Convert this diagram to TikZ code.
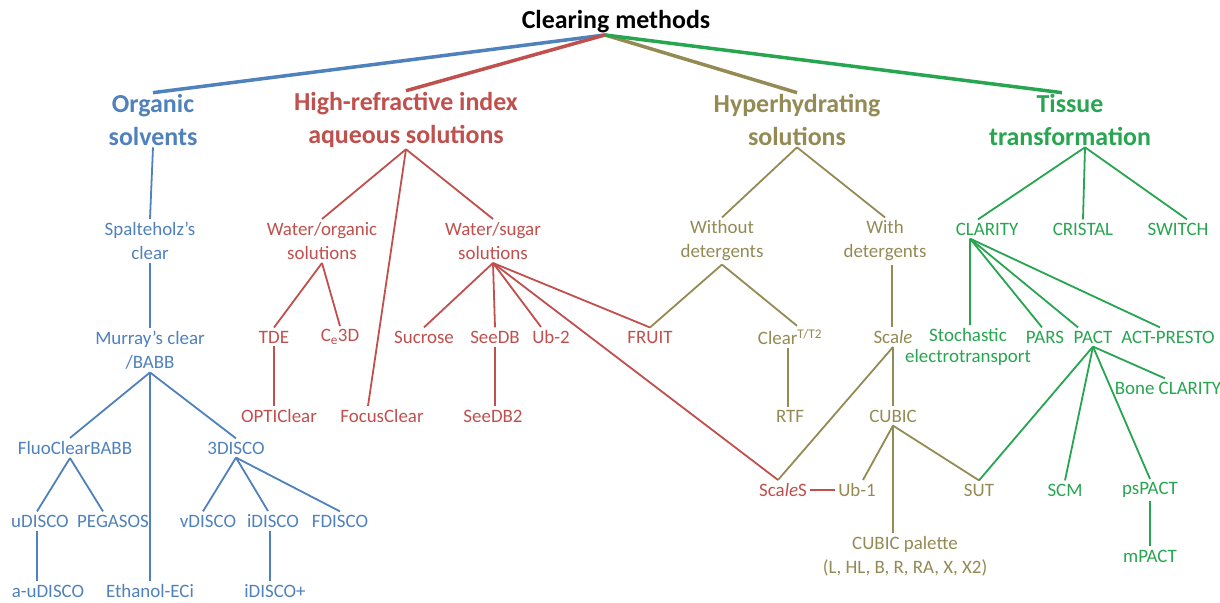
\documentclass[tikz,border=0pt]{standalone}
\usepackage{fontspec}
\setmainfont{Carlito}
\definecolor{solv}{RGB}{79,129,189}
\definecolor{hri}{RGB}{192,80,77}
\definecolor{hyp}{RGB}{148,138,84}
\definecolor{tis}{RGB}{40,165,80}
\tikzset{
  lbl/.style={font=\fontsize{19}{24}\selectfont, align=center, inner sep=2.5bp},
  head/.style={font=\bfseries\fontsize{26}{33}\selectfont, align=center, inner sep=1.5bp},
  br/.style={line width=1.8bp},
  top/.style={line width=3.5bp}
}
\begin{document}
\begin{tikzpicture}[x=1bp,y=-1bp]
  \path[use as bounding box, fill=white] (0,0) rectangle (1220,603);
  \node[head,text=black] (title) at (616,22) {Clearing methods};
  \node[head,text=solv] (org) at (153,120) {Organic\\solvents};
  \node[head,text=hri] (hri) at (406,120) {High-refractive index\\aqueous solutions};
  \node[head,text=hyp] (hyp) at (797,120) {Hyperhydrating\\solutions};
  \node[head,text=tis] (tis) at (1070,120) {Tissue\\transformation};
  \draw[top,solv] ([xshift=-11bp]title.south) -- (org.north);
  \draw[top,hri] ([xshift=-11bp]title.south) -- (hri.north);
  \draw[top,hyp] ([xshift=-11bp]title.south) -- (hyp.north);
  \draw[top,tis] ([xshift=-11bp]title.south) -- ([xshift=-8bp]tis.north);

  \begin{scope}[every node/.style={lbl,text=solv}, every path/.style={br,solv}]
    \node (spal) at (150,241) {Spalteholz’s\\clear};
    \node (murray) at (150,350) {Murray’s clear\\/BABB};
    \node (fluo) at (75,448) {FluoClearBABB};
    \node (tdisco) at (236,448) {3DISCO};
    \node (udisco) at (40,521) {uDISCO};
    \node (pegasos) at (113,521) {PEGASOS};
    \node (vdisco) at (208,521) {vDISCO};
    \node (idisco) at (273,521) {iDISCO};
    \node (fdisco) at (340,521) {FDISCO};
    \node (audisco) at (48,591) {a-uDISCO};
    \node (ethanol) at (150,591) {Ethanol-ECi};
    \node (idiscop) at (275,591) {iDISCO+};
    \draw (org.south) -- (spal.north);
    \draw (spal.south) -- (murray.north);
    \draw (murray.south) -- ([xshift=-5bp]fluo.north);
    \draw (murray.south) -- (ethanol.north);
    \draw (murray.south) -- (tdisco.north);
    \draw ([xshift=-5bp]fluo.south) -- ([xshift=-3bp]udisco.north);
    \draw ([xshift=-5bp]fluo.south) -- ([xshift=-10bp]pegasos.north);
    \draw ([xshift=-3bp]udisco.south) -- ([xshift=-3bp]udisco.south |- audisco.north);
    \draw (tdisco.south) -- ([xshift=-5bp]vdisco.north);
    \draw (tdisco.south) -- ([xshift=-5bp]idisco.north);
    \draw (tdisco.south) -- (fdisco.north);
    \draw ([xshift=-3bp]idisco.south) -- ([xshift=-3bp]idisco.south |- idiscop.north);
  \end{scope}

  \begin{scope}[every node/.style={lbl,text=hri}, every path/.style={br,hri}]
    \node (wo) at (322,241) {Water/organic\\solutions};
    \node (tde) at (274,337) {TDE};
    \node (ce3d) at (340,337) {C\textsubscript{e}3D};
    \node (optic) at (279,416) {OPTIClear};
    \node (focus) at (382,416) {FocusClear};
    \node (ws) at (493,241) {Water/sugar\\solutions};
    \node (sucrose) at (424,337) {Sucrose};
    \node (seedb) at (495,337) {SeeDB};
    \node (ub2) at (551,337) {Ub-2};
    \node (fruit) at (650,337) {FRUIT};
    \node (seedb2) at (493,416) {SeeDB2};
    \node (scales) at (783,490) {Sca\textit{le}S};
    \draw (hri.south) -- (wo.north);
    \draw (hri.south) -- ([xshift=-14bp]focus.north);
    \draw (hri.south) -- (ws.north);
    \draw (wo.south) -- (tde.north);
    \draw (wo.south) -- (ce3d.north);
    \draw (tde.south) -- (tde.south |- optic.north);
    \draw (ws.south) -- (sucrose.north);
    \draw (ws.south) -- (seedb.north);
    \draw (ws.south) -- ([xshift=-10bp]ub2.north);
    \draw (ws.south) -- (fruit.north);
    \draw (ws.south) -- ([xshift=-5bp]scales.north);
    \draw (seedb.south) -- (seedb.south |- seedb2.north);
  \end{scope}

  \begin{scope}[every node/.style={lbl,text=hyp}, every path/.style={br,hyp}]
    \node (wod) at (722,241) {Without\\detergents};
    \node (wd) at (885,241) {With\\detergents};
    \node (clear) at (790,337) {Clear\textsuperscript{T/T2}};
    \node (rtf) at (790,416) {RTF};
    \node (scale) at (893,337) {Sca\textit{le}};
    \node (cubic) at (893,416) {CUBIC};
    \node (ub1) at (857,490) {Ub-1};
    \node (sut) at (979,490) {SUT};
    \node (palette) at (905,556) {CUBIC palette\\(L, HL, B, R, RA, X, X2)};
    \draw (hyp.south) -- (wod.north);
    \draw (hyp.south) -- (wd.north);
    \draw (wod.south) -- (fruit.north);
    \draw (wod.south) -- ([xshift=7bp]clear.north);
    \draw ([xshift=-2bp]clear.south) -- ([xshift=-2bp]clear.south |- rtf.north);
    \draw ([xshift=7bp]wd.south) -- ([xshift=7bp]wd.south |- scale.north);
    \draw (scale.south) -- ([xshift=-5bp]scales.north);
    \draw (scale.south) -- (cubic.north);
    \draw (cubic.south) -- ([xshift=6bp]ub1.north);
    \draw (cubic.south) -- (cubic.south |- palette.north);
    \draw (cubic.south) -- (sut.north);
  \end{scope}
  \draw[br,hri] (scales.east) -- (ub1.west);

  \begin{scope}[every node/.style={lbl,text=tis}, every path/.style={br,tis}]
    \node (clarity) at (987,229) {CLARITY};
    \node (cristal) at (1083,229) {CRISTAL};
    \node (switch) at (1178,229) {SWITCH};
    \node[font=\fontsize{19}{21}\selectfont] (stoch) at (968,347) {Stochastic\\electrotransport};
    \node (pars) at (1045,337) {PARS};
    \node (pact) at (1093,337) {PACT};
    \node (actp) at (1168,337) {ACT-PRESTO};
    \node (bone) at (1168,388) {Bone CLARITY};
    \node (scm) at (1065,490) {SCM};
    \node (pspact) at (1150,490) {psPACT};
    \node (mpact) at (1150,556) {mPACT};
    \draw ([xshift=15bp]tis.south) -- ([xshift=-9bp]clarity.north);
    \draw ([xshift=15bp]tis.south) -- (cristal.north);
    \draw ([xshift=15bp]tis.south) -- ([xshift=9bp]switch.north);
    \draw ([xshift=-17bp]clarity.south) -- ([xshift=2bp]stoch.north);
    \draw ([xshift=-17bp]clarity.south) -- ([xshift=-3bp]pars.north);
    \draw ([xshift=-17bp]clarity.south) -- ([xshift=-15bp]pact.north);
    \draw ([xshift=-17bp]clarity.south) -- ([xshift=-8bp]actp.north);
    \draw (pact.south) -- (sut.north);
    \draw (pact.south) -- (scm.north);
    \draw (pact.south) -- (pspact.north);
    \draw (pact.south) -- ([xshift=-3bp]bone.north);
    \draw (pspact.south) -- (pspact.south |- mpact.north);
  \end{scope}
\end{tikzpicture}
\end{document}
